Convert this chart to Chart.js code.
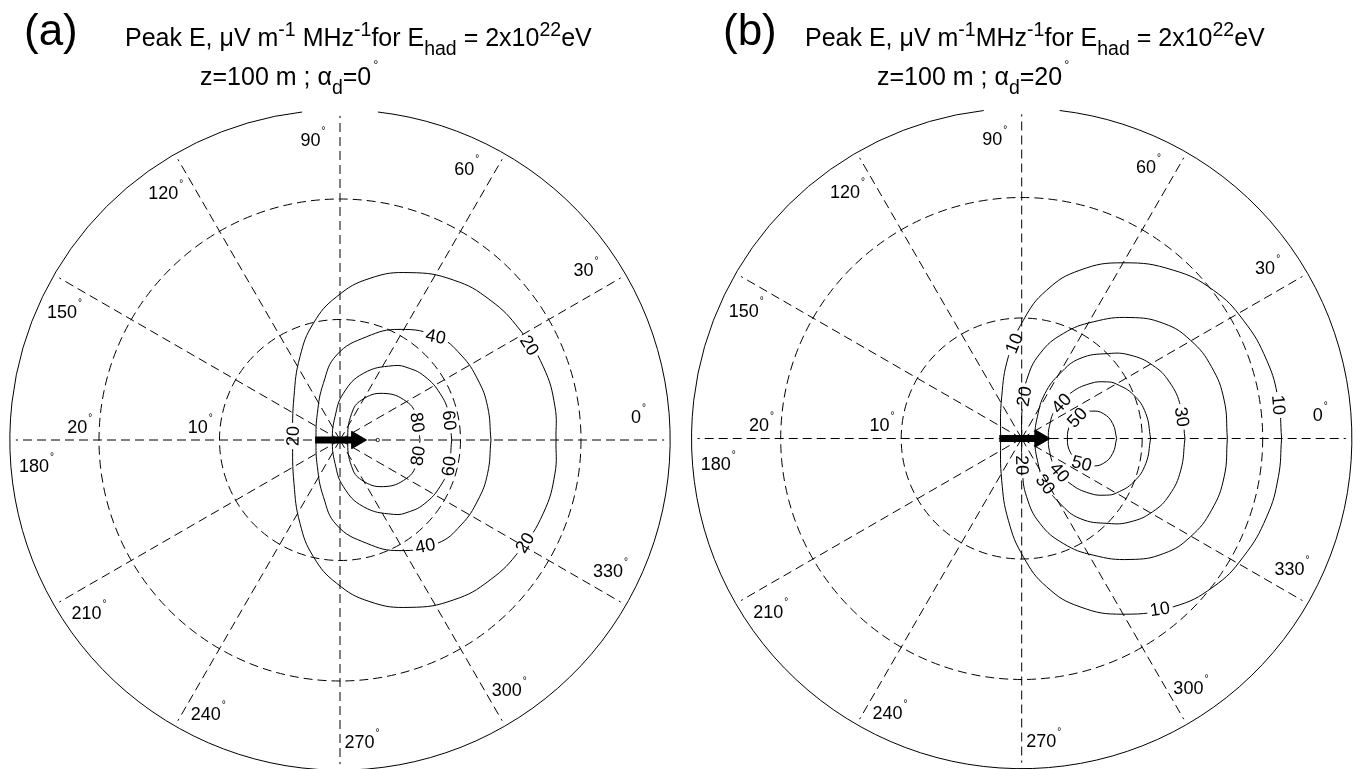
<!DOCTYPE html>
<html><head><meta charset="utf-8">
<script src="https://cdn.jsdelivr.net/npm/chart.js@4.4.0/dist/chart.umd.min.js"></script>
<style>
html,body{margin:0;padding:0;background:#fff;}
body{width:1354px;height:769px;overflow:hidden;position:relative;font-family:"Liberation Sans",Arial,Helvetica,sans-serif;}
canvas{position:absolute;top:0;}
.t{position:absolute;white-space:nowrap;line-height:1;color:#000;}
sup{font-size:.78em;vertical-align:baseline;position:relative;top:-.5em;}
sub{font-size:.78em;vertical-align:baseline;position:relative;top:.45em;}
sup.deg{font-size:.5em;top:-1.3em;margin-left:2px;}
</style></head><body>
<canvas id="ca" width="677" height="769" style="left:0"></canvas>
<canvas id="cb" width="677" height="769" style="left:677px"></canvas>
<div class="t" style="left:24px;top:8px;font-size:44px">(a)</div>
<div class="t" style="left:125px;top:25px;font-size:25px">Peak E, μV m<sup>-1</sup> MHz<sup>-1</sup>for E<sub>had</sub> = 2x10<sup>22</sup>eV</div>
<div class="t" style="left:200px;top:64px;font-size:25px">z=100 m ; α<sub>d</sub>=0<sup class="deg">°</sup></div>
<div class="t" style="left:723px;top:8px;font-size:44px">(b)</div>
<div class="t" style="left:805px;top:25px;font-size:25px">Peak E, μV m<sup>-1</sup>MHz<sup>-1</sup>for E<sub>had</sub> = 2x10<sup>22</sup>eV</div>
<div class="t" style="left:877px;top:64px;font-size:25px">z=100 m ; α<sub>d</sub>=20<sup class="deg">°</sup></div>
<script>
// ---------- data (degrees; x = θ cosφ, y = θ sinφ) ----------
const angleTicks = [0,30,60,90,120,150,180,210,240,270,300,330];
const radialTicks = [10,20];
const radialMax = 27.4;

// panel (a): alpha_d = 0
const levelsA = [20,40,60,80];
const contA20 = [[17.93,0],[17.84,2.77],[16.87,6.08],[14.94,9.13],[12.45,11.62],[9.40,13.28],[5.81,13.89],[2.49,13.42],[-0.28,11.89],[-2.21,9.68],[-3.32,6.92],[-3.82,3.60],[-3.93,0],[-3.82,-3.60],[-3.32,-6.92],[-2.21,-9.68],[-0.28,-11.89],[2.49,-13.42],[5.81,-13.89],[9.40,-13.28],[12.45,-11.62],[14.94,-9.13],[16.87,-6.08],[17.84,-2.77],[17.93,0]];
const contA40 = [[12.53,0],[12.25,2.77],[11.45,4.98],[10.05,7.05],[8.10,8.57],[4.98,9.18],[2.21,8.57],[-0.28,7.05],[-1.38,4.70],[-1.88,2.21],[-1.99,0],[-1.88,-2.21],[-1.38,-4.70],[-0.28,-7.05],[2.21,-8.57],[4.98,-9.18],[8.10,-8.57],[10.05,-7.05],[11.45,-4.98],[12.25,-2.77],[12.53,0]];
const contA60 = [[9.27,0],[9.02,2.21],[8.30,3.87],[7.05,5.26],[5.75,5.95],[4.43,6.17],[1.94,5.53],[0.28,3.87],[-0.41,1.94],[-0.64,0],[-0.41,-1.94],[0.28,-3.87],[1.94,-5.53],[4.43,-6.17],[5.75,-5.95],[7.05,-5.26],[8.30,-3.87],[9.02,-2.21],[9.27,0]];
const contA80 = [[6.64,0],[6.36,1.94],[5.53,3.18],[3.60,3.87],[1.80,3.32],[0.97,2.21],[0.64,0],[0.97,-2.21],[1.80,-3.32],[3.60,-3.87],[5.53,-3.18],[6.36,-1.94],[6.64,0]];
const labelLevelsA = [20,20,20,40,40,60,60,80,80];
const labelXA = [-4.02,15.63,15.35,7.88,7.05,9.85,9.79,6.28,6.37];
const labelYA = [0.33,7.80,-8.52,8.24,-8.63,1.72,-2.26,1.44,-1.30];
const arrowA = [-2.07, 2.21];
const markerA = [3.13, 0];

// panel (b): alpha_d = 20
const levelsB = [10,20,30,40,50];
const contB10 = [[21.57,0],[21.30,3.18],[20.33,6.50],[18.39,9.82],[15.90,12.31],[12.58,13.97],[8.43,14.58],[4.84,13.97],[2.07,12.31],[0.14,9.82],[-1.11,6.78],[-1.66,3.46],[-1.75,0],[-1.66,-3.46],[-1.11,-6.78],[0.14,-9.82],[2.07,-12.31],[4.84,-13.97],[8.43,-14.58],[12.58,-13.97],[15.90,-12.31],[18.39,-9.82],[20.33,-6.50],[21.30,-3.18],[21.57,0]];
const contB20 = [[17.07,0],[16.80,3.18],[15.75,5.95],[14.00,8.16],[11.80,9.54],[8.99,10.04],[5.94,9.68],[3.45,8.71],[1.52,7.05],[0.41,4.84],[0.05,2.63],[0,0],[0.05,-2.63],[0.41,-4.84],[1.52,-7.05],[3.45,-8.71],[5.94,-9.68],[8.99,-10.04],[11.80,-9.54],[14.00,-8.16],[15.75,-5.95],[16.80,-3.18],[17.07,0]];
const contB30 = [[13.55,0],[13.20,2.63],[12.25,4.70],[10.85,6.09],[9.00,6.92],[7.19,7.05],[4.84,6.64],[3.18,5.39],[1.93,3.73],[1.30,1.80],[1.10,0],[1.30,-1.80],[1.93,-3.73],[3.18,-5.39],[4.84,-6.64],[7.19,-7.05],[9.00,-6.92],[10.85,-6.09],[12.25,-4.70],[13.20,-2.63],[13.55,0]];
const contB40 = [[10.70,0],[10.30,2.07],[9.30,3.60],[7.88,4.51],[7.05,4.70],[5.67,4.56],[4.01,3.73],[2.76,2.35],[2.29,0.97],[2.21,0],[2.29,-0.97],[2.76,-2.35],[4.01,-3.73],[5.67,-4.56],[7.05,-4.70],[7.88,-4.51],[9.30,-3.60],[10.30,-2.07],[10.70,0]];
const contB50 = [[7.88,0],[7.55,1.24],[6.77,2.07],[5.81,2.27],[4.84,2.02],[4.06,1.19],[3.79,0],[4.06,-1.19],[4.84,-2.02],[5.81,-2.27],[6.77,-2.07],[7.55,-1.24],[7.88,0]];
const labelLevelsB = [10,10,10,20,20,30,30,40,40,50,50];
const labelXB = [-0.56,21.16,11.48,0.41,-0.14,13.28,2.07,3.32,3.04,4.70,4.98];
const labelYB = [7.88,2.77,-14.25,3.46,-2.21,1.80,-3.73,2.90,-2.90,1.66,-2.07];
const arrowB = [-1.86, 2.35];

// ---------- layout ----------
const PXDEG = 12.05;
const FONT = '"Liberation Sans", Arial, Helvetica, sans-serif';
const SPOKE_R = 26.9, LABEL_R = 25.06, LABEL_ROT = 4.65, GAP_HALF = 6.6;

function nearestOnPoly(pts, px, py, sx, sy) {
  let best = null;
  for (let i = 0; i < pts.length - 1; i++) {
    const ax = sx.getPixelForValue(pts[i][0]), ay = sy.getPixelForValue(pts[i][1]);
    const bx = sx.getPixelForValue(pts[i+1][0]), by = sy.getPixelForValue(pts[i+1][1]);
    const dx = bx - ax, dy = by - ay, L = dx*dx + dy*dy || 1;
    let t = ((px-ax)*dx + (py-ay)*dy) / L; t = Math.max(0, Math.min(1, t));
    const qx = ax + t*dx, qy = ay + t*dy, d = (qx-px)**2 + (qy-py)**2;
    if (!best || d < best.d) best = {d, x:qx, y:qy, dx, dy};
  }
  return best;
}

function makePanel(id, spec) {
  const canvas = document.getElementById(id);
  const W = canvas.width, H = canvas.height;
  const xmin = -spec.cx / PXDEG, xmax = (W - spec.cx) / PXDEG;
  const ymax = spec.cy / PXDEG, ymin = -(H - spec.cy) / PXDEG;
  const datasets = spec.contours.map(c => ({
    data: c.map(p => ({x:p[0], y:p[1]})), showLine:true, borderColor:'#000', borderWidth:1,
    pointRadius:0, pointHoverRadius:0, tension:0.45, fill:false
  }));
  datasets.push({
    data:[{x:spec.arrow[0], y:0}, {x:spec.arrow[1] - 0.83, y:0}], showLine:true,
    borderColor:'#000', borderWidth:7, borderCapStyle:'butt',
    pointRadius:[0,10], pointHoverRadius:0, pointStyle:'triangle', pointRotation:90,
    pointBackgroundColor:'#000', pointBorderColor:'#000', pointBorderWidth:1
  });
  if (spec.marker) datasets.push({
    data:[{x:spec.marker[0], y:spec.marker[1]}], pointRadius:1.7, pointHoverRadius:0,
    pointBorderWidth:0.8, pointBorderColor:'#000', pointBackgroundColor:'#fff'
  });

  const plugin = {
    id:'polar_' + id,
    afterDatasetsDraw(chart) {
      const ctx = chart.ctx, sx = chart.scales.x, sy = chart.scales.y;
      const cx = sx.getPixelForValue(0), cy = sy.getPixelForValue(0);
      const R = v => sx.getPixelForValue(v) - cx;
      const rad = d => d * Math.PI / 180;
      ctx.font = '18px ' + FONT;
      const placed = spec.labelLevels.map((lv, i) => {
        const poly = spec.contours[spec.levels.indexOf(lv)];
        const n = nearestOnPoly(poly, sx.getPixelForValue(spec.labelX[i]), sy.getPixelForValue(spec.labelY[i]), sx, sy);
        let a = Math.atan2(n.dy, n.dx);
        while (a >= Math.PI/2) a -= Math.PI;
        while (a < -Math.PI/2) a += Math.PI;
        return {x:n.x, y:n.y, a, t:String(lv)};
      });
      placed.forEach(p => {
        const w = ctx.measureText(p.t).width;
        ctx.save(); ctx.translate(p.x, p.y); ctx.rotate(p.a);
        ctx.fillStyle = '#fff'; ctx.fillRect(-w/2 - 3, -6, w + 6, 12);
        ctx.restore();
      });
      // grid
      ctx.save();
      ctx.strokeStyle = '#000'; ctx.lineWidth = 1;
      ctx.setLineDash([]);
      ctx.beginPath();
      ctx.arc(cx, cy, R(radialMax), rad(-90 + GAP_HALF), rad(270 - GAP_HALF), false);
      ctx.stroke();
      ctx.setLineDash([9,5]);
      radialTicks.forEach(r => { ctx.beginPath(); ctx.arc(cx, cy, R(r), 0, 2*Math.PI); ctx.stroke(); });
      angleTicks.forEach(t => {
        ctx.beginPath(); ctx.moveTo(cx, cy);
        ctx.lineTo(sx.getPixelForValue(SPOKE_R*Math.cos(rad(t))), sy.getPixelForValue(SPOKE_R*Math.sin(rad(t))));
        ctx.stroke();
      });
      ctx.setLineDash([]);
      ctx.restore();
      // angle labels (label box = number + degree sign, centred on anchor)
      ctx.save();
      ctx.fillStyle = '#000'; ctx.textAlign = 'center'; ctx.textBaseline = 'middle';
      const degLabel = (txt, x, y) => {
        ctx.font = '18px ' + FONT;
        const w = ctx.measureText(txt).width;
        ctx.fillText(txt, x, y);
        ctx.font = '10px ' + FONT;
        ctx.fillText('°', x + w/2 + 3, y - 10);
      };
      angleTicks.forEach(t => {
        const a = rad(t + LABEL_ROT);
        degLabel(String(t), sx.getPixelForValue(LABEL_R*Math.cos(a)) - 5, sy.getPixelForValue(LABEL_R*Math.sin(a)) + 2.5);
      });
      radialTicks.forEach(r => {
        degLabel(String(r), sx.getPixelForValue(-(r + 1.8)), sy.getPixelForValue(1.0));
      });
      // contour labels
      ctx.font = '18px ' + FONT;
      placed.forEach(p => {
        ctx.save(); ctx.translate(p.x, p.y); ctx.rotate(p.a);
        ctx.fillText(p.t, 0, 1);
        ctx.restore();
      });
      ctx.restore();
    }
  };

  return new Chart(canvas, {
    type:'scatter',
    data:{datasets},
    options:{
      responsive:false, animation:false, devicePixelRatio:1, events:[],
      layout:{padding:0, autoPadding:false},
      plugins:{legend:{display:false}, tooltip:{enabled:false}, title:{display:false}},
      scales:{
        x:{type:'linear', min:xmin, max:xmax, display:false},
        y:{type:'linear', min:ymin, max:ymax, display:false}
      }
    },
    plugins:[plugin]
  });
}

makePanel('ca', {cx:340, cy:440, contours:[contA20,contA40,contA60,contA80], levels:levelsA,
  labelLevels:labelLevelsA, labelX:labelXA, labelY:labelYA, arrow:arrowA, marker:markerA});
makePanel('cb', {cx:344.7, cy:438.5, contours:[contB10,contB20,contB30,contB40,contB50], levels:levelsB,
  labelLevels:labelLevelsB, labelX:labelXB, labelY:labelYB, arrow:arrowB});
</script>
</body></html>
